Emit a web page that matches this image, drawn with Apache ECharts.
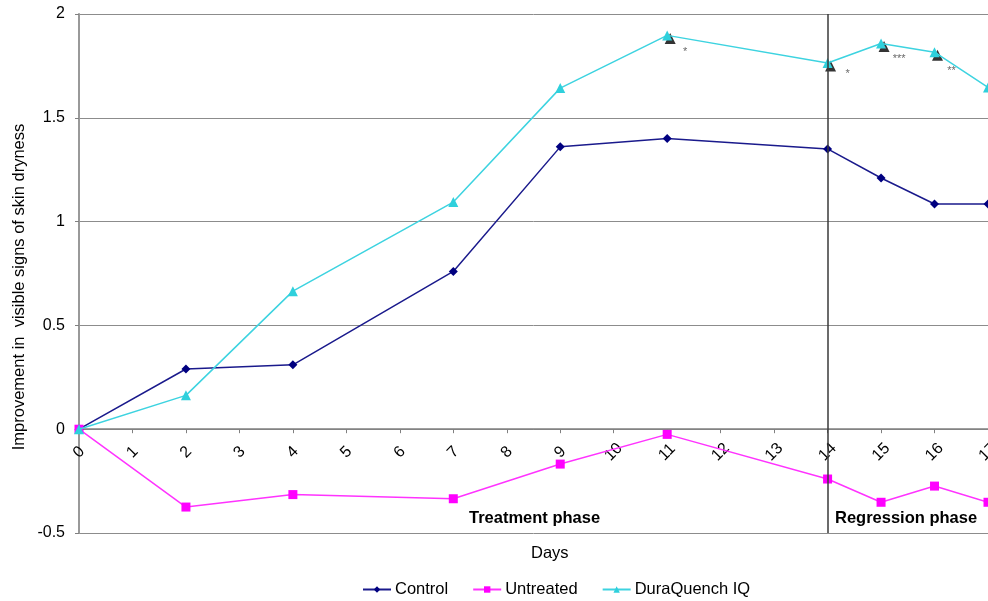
<!DOCTYPE html>
<html>
<head>
<meta charset="utf-8">
<script src="https://cdn.jsdelivr.net/npm/echarts@6/dist/echarts.min.js"></script>
<style>
  html, body { margin: 0; padding: 0; background: #fff; }
  #chart { width: 988px; height: 601px; }
</style>
</head>
<body>
<div id="chart"></div>
<script>
// Study days and mean improvement scores per group
const days = [0, 2, 4, 7, 9, 11, 14, 15, 16, 17];
const control = [0, 0.29, 0.31, 0.76, 1.36, 1.40, 1.35, 1.21, 1.085, 1.085];
const untreated = [0, -0.375, -0.315, -0.335, -0.168, -0.025, -0.24, -0.352, -0.274, -0.352];
const duraQuench = [0, 0.163, 0.665, 1.094, 1.643, 1.897, 1.764, 1.858, 1.816, 1.646];

// Days where DuraQuench IQ differs significantly, with star marks
const sigDays = [11, 14, 15, 16];
const sigStars = ['*', '*', '***', '**'];

const yTicks = [-0.5, 0, 0.5, 1, 1.5, 2];
const phaseSplitDay = 14;

const pair = (xs, ys) => xs.map((x, i) => [x, ys[i]]);
const sigValues = sigDays.map(d => duraQuench[days.indexOf(d)]);
const starOffsets = [[15, 14], [17, 8], [15, 12], [14, 16]];

// Plot box; the day axis is lifted from the bottom edge up to the zero line
const GRID = { left: 79, right: 0, top: 14, bottom: 68 };
const plotHeight = 601 - GRID.top - GRID.bottom;
const yMin = yTicks[0], yMax = yTicks[yTicks.length - 1];
const zeroLift = plotHeight * (0 - yMin) / (yMax - yMin);

const FONT = 'Liberation Sans, Arial, sans-serif';

const chart = echarts.init(document.getElementById('chart'));
chart.setOption({
  animation: false,
  textStyle: { fontFamily: FONT },
  grid: Object.assign({ containLabel: false, outerBoundsMode: 'none' }, GRID),
  xAxis: {
    type: 'value', min: 0, max: 17, interval: 1,
    position: 'bottom', offset: -zeroLift,
    axisLine: { onZero: false, lineStyle: { color: '#808080', width: 1.5 } },
    axisTick: { show: true, length: 4, lineStyle: { color: '#808080' } },
    axisLabel: {
      rotate: 45, align: 'center', verticalAlign: 'middle', margin: 23,
      fontSize: 16, color: '#000', showMinLabel: true, showMaxLabel: true, hideOverlap: false
    },
    splitLine: { show: false }
  },
  yAxis: {
    type: 'value', min: yMin, max: yMax, interval: 0.5,
    axisLine: { show: true, onZero: false, lineStyle: { color: '#999', width: 2 } },
    axisTick: { show: true, length: 4, lineStyle: { color: '#808080' } },
    axisLabel: { fontSize: 16, color: '#000', margin: 14 },
    splitLine: { lineStyle: { color: '#8c8c8c', width: 1 } }
  },
  legend: {
    top: 576, left: 357, itemGap: 24, itemWidth: 28, itemHeight: 8,
    textStyle: { fontSize: 16.5, color: '#000', padding: [0, 0, 0, -1] },
    data: ['Control', 'Untreated', 'DuraQuench IQ']
  },
  graphic: [
    {
      type: 'text', x: 19, y: 287, rotation: Math.PI / 2,
      style: {
        text: 'Improvement in  visible signs of skin dryness', fontSize: 16.5, fill: '#000',
        fontFamily: FONT, align: 'center', verticalAlign: 'middle'
      }
    },
    { type: 'text', left: 531, top: 545, style: { text: 'Days', fontSize: 16.5, fill: '#000', fontFamily: FONT } },
    { type: 'text', left: 469, top: 510, style: { text: 'Treatment phase', fontSize: 16.5, fontWeight: 'bold', fill: '#000', fontFamily: FONT } },
    { type: 'text', left: 835, top: 510, style: { text: 'Regression phase', fontSize: 16.5, fontWeight: 'bold', fill: '#000', fontFamily: FONT } }
  ],
  series: [
    {
      name: 'Control', type: 'line', data: pair(days, control),
      symbol: 'diamond', symbolSize: 9,
      lineStyle: { color: '#1a1a8c', width: 1.5 },
      itemStyle: { color: '#000080' },
      markLine: {
        silent: true, symbol: 'none', label: { show: false },
        lineStyle: { color: '#3a3a3a', width: 1.5, type: 'solid' },
        data: [[{ coord: [phaseSplitDay, yMin] }, { coord: [phaseSplitDay, yMax] }]]
      },
      z: 3
    },
    {
      name: 'Untreated', type: 'line', data: pair(days, untreated),
      symbol: 'rect', symbolSize: 9,
      lineStyle: { color: '#ff33ff', width: 1.5 },
      itemStyle: { color: '#ff00ff' },
      z: 3
    },
    {
      name: 'Significance', type: 'scatter',
      data: sigDays.map((d, i) => ({
        value: [d, sigValues[i]],
        label: { show: true, formatter: sigStars[i], offset: starOffsets[i] }
      })),
      symbol: 'triangle', symbolSize: 11, symbolOffset: [3, 3],
      itemStyle: { color: '#000' },
      label: { position: 'inside', fontSize: 11, color: '#444' },
      z: 2
    },
    {
      name: 'DuraQuench IQ', type: 'line', data: pair(days, duraQuench),
      symbol: 'triangle', symbolSize: 10,
      lineStyle: { color: '#3dd3e0', width: 1.5 },
      itemStyle: { color: '#2fd0dc' },
      z: 4
    }
  ]
});
</script>
</body>
</html>
